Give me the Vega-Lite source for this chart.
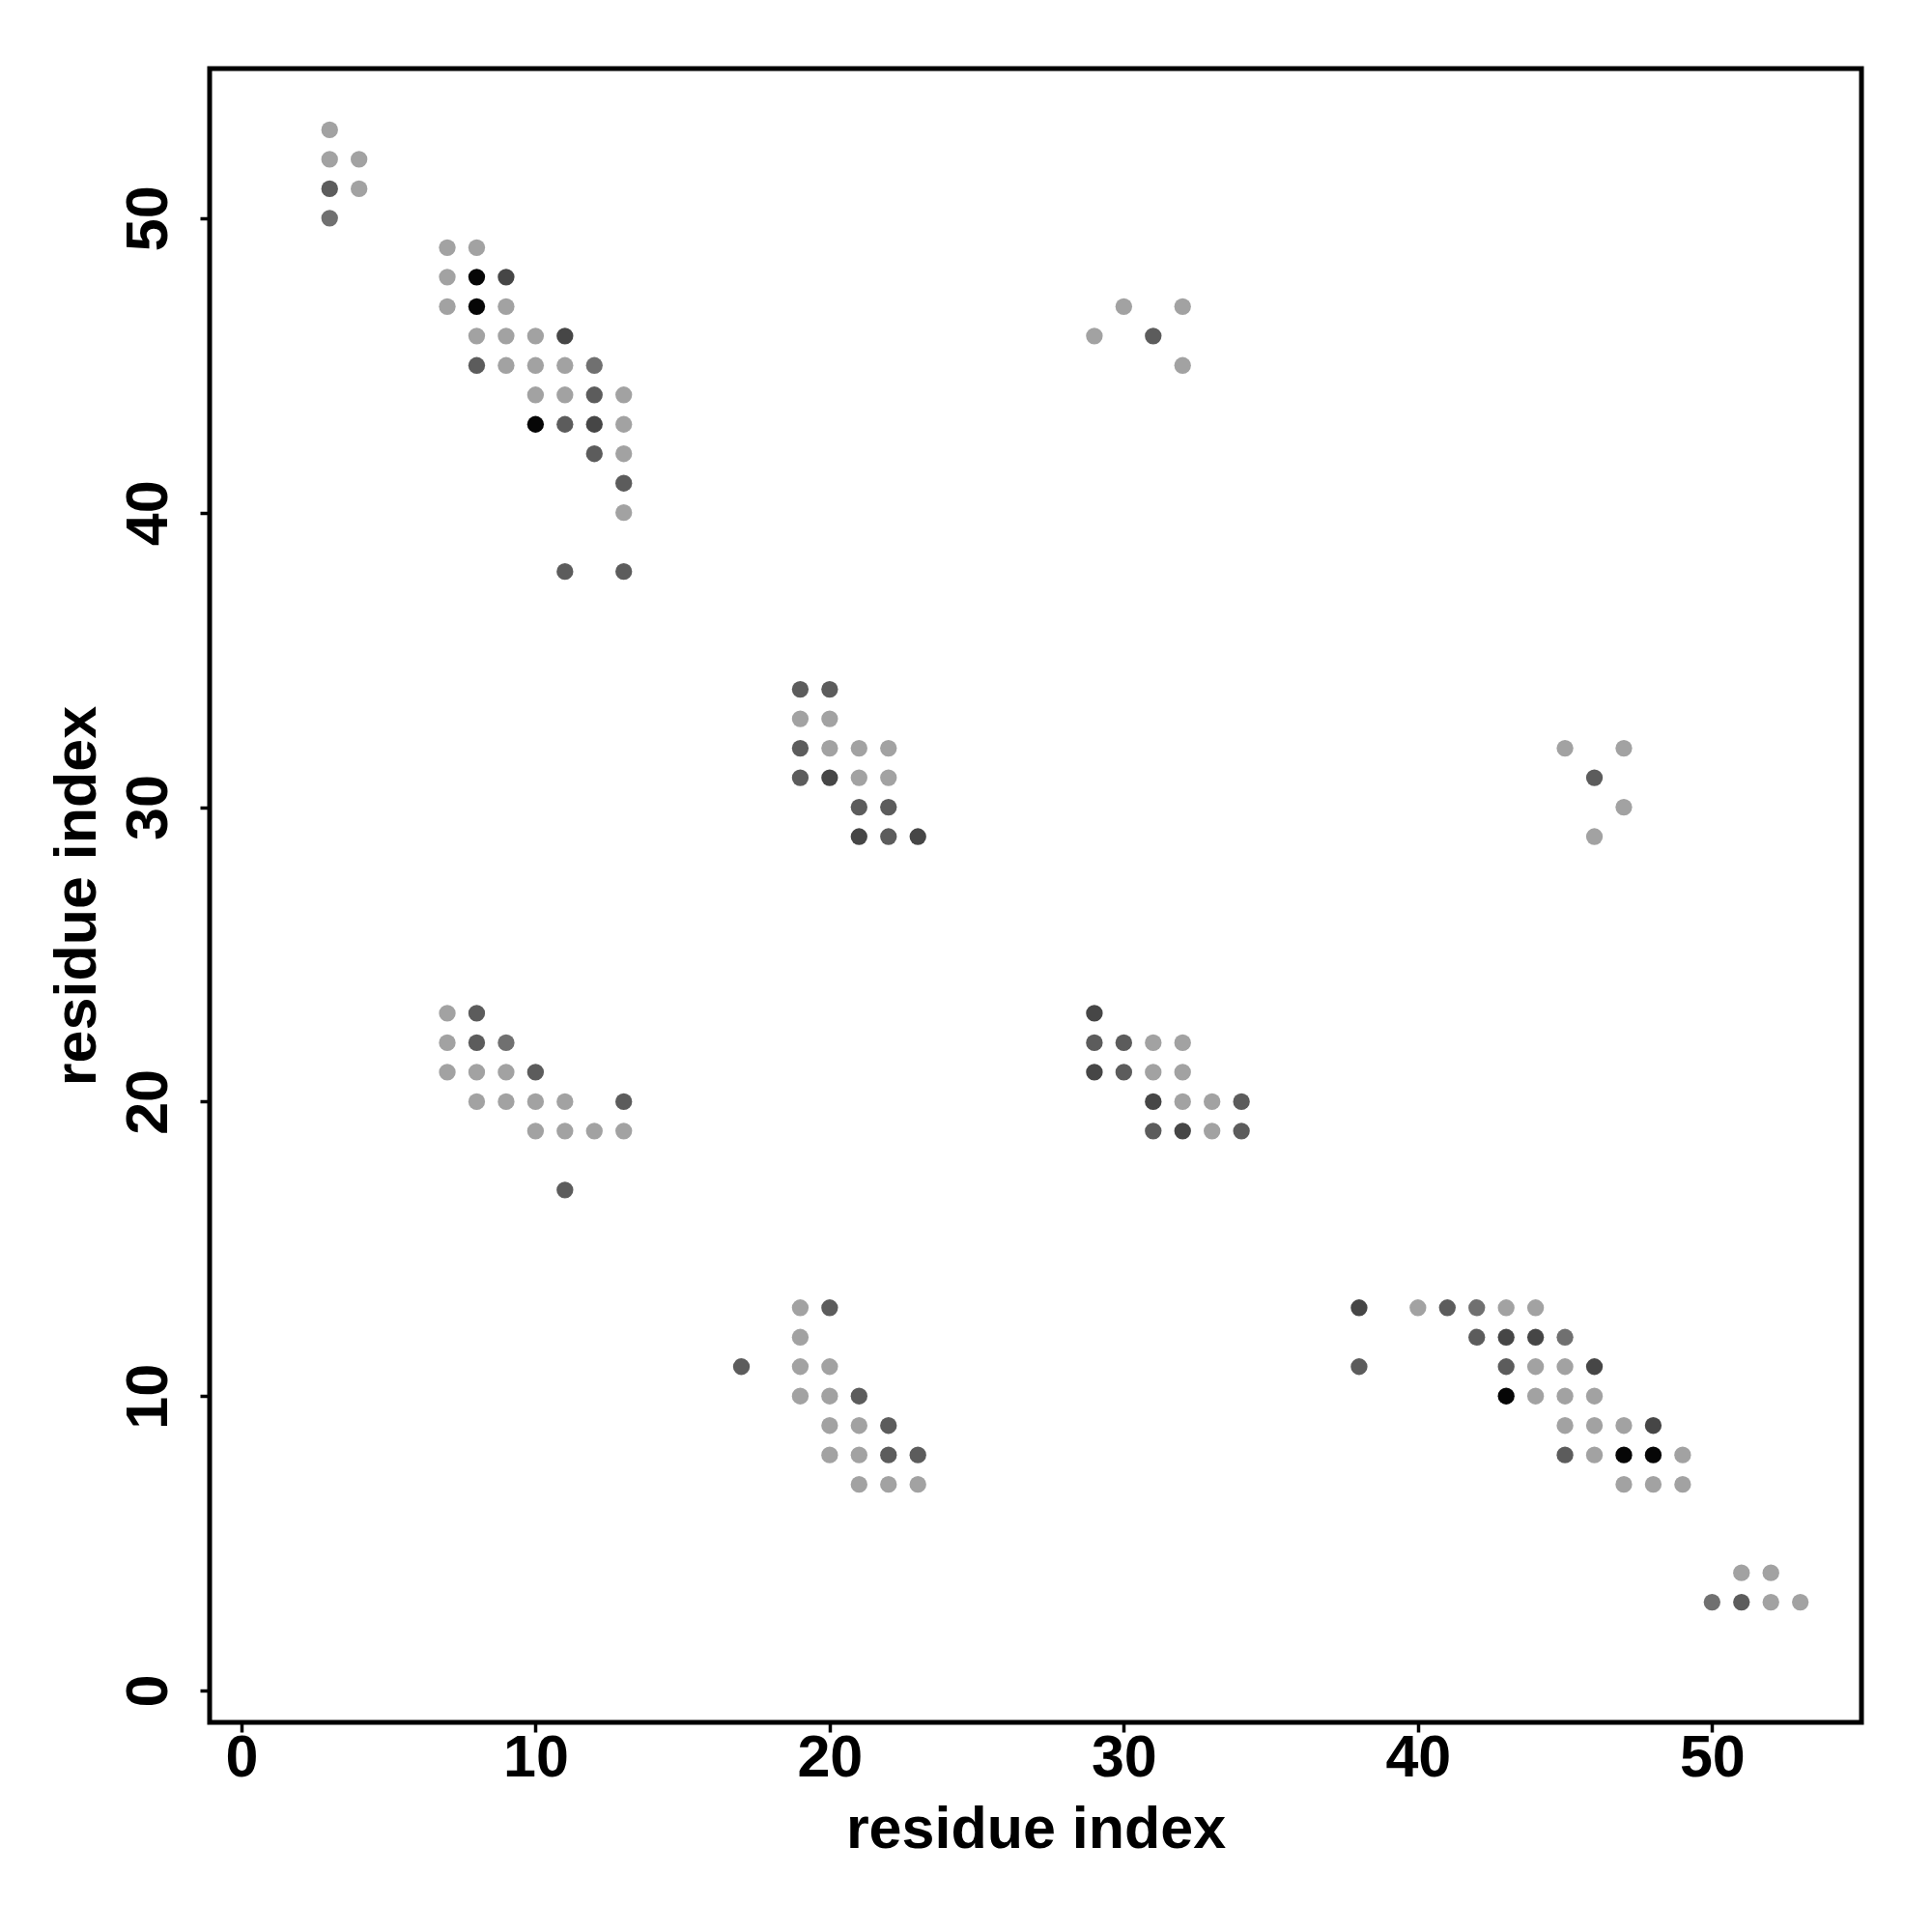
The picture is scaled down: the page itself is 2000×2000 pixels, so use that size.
{
  "$schema": "https://vega.github.io/schema/vega-lite/v6.json",
  "width": 1710,
  "height": 1712,
  "autosize": {"type": "none"},
  "padding": {"left": 217, "top": 71, "right": 73, "bottom": 217},
  "background": "white",
  "config": {
    "view": {"stroke": "black", "strokeWidth": 5},
    "font": "Liberation Sans"
  },
  "data": {
    "values": [
      {"i": 3, "j": 53, "level": 1}, {"i": 3, "j": 52, "level": 1}, {"i": 3, "j": 51, "level": 3}, {"i": 3, "j": 50, "level": 2},
      {"i": 4, "j": 52, "level": 1}, {"i": 4, "j": 51, "level": 1},
      {"i": 7, "j": 49, "level": 1}, {"i": 7, "j": 48, "level": 1}, {"i": 7, "j": 47, "level": 1},
      {"i": 8, "j": 49, "level": 1}, {"i": 8, "j": 48, "level": 5}, {"i": 8, "j": 47, "level": 5}, {"i": 8, "j": 46, "level": 1}, {"i": 8, "j": 45, "level": 3},
      {"i": 9, "j": 48, "level": 4}, {"i": 9, "j": 47, "level": 1}, {"i": 9, "j": 46, "level": 1}, {"i": 9, "j": 45, "level": 1},
      {"i": 10, "j": 46, "level": 1}, {"i": 10, "j": 45, "level": 1}, {"i": 10, "j": 44, "level": 1}, {"i": 10, "j": 43, "level": 5},
      {"i": 11, "j": 46, "level": 4}, {"i": 11, "j": 45, "level": 1}, {"i": 11, "j": 44, "level": 1}, {"i": 11, "j": 43, "level": 3}, {"i": 11, "j": 38, "level": 3},
      {"i": 12, "j": 45, "level": 2}, {"i": 12, "j": 44, "level": 3}, {"i": 12, "j": 43, "level": 4}, {"i": 12, "j": 42, "level": 3},
      {"i": 13, "j": 44, "level": 1}, {"i": 13, "j": 43, "level": 1}, {"i": 13, "j": 42, "level": 1}, {"i": 13, "j": 41, "level": 3}, {"i": 13, "j": 40, "level": 1}, {"i": 13, "j": 38, "level": 3},
      {"i": 29, "j": 46, "level": 1}, {"i": 30, "j": 47, "level": 1}, {"i": 31, "j": 46, "level": 3}, {"i": 32, "j": 47, "level": 1}, {"i": 32, "j": 45, "level": 1},
      {"i": 19, "j": 34, "level": 3}, {"i": 19, "j": 33, "level": 1}, {"i": 19, "j": 32, "level": 3}, {"i": 19, "j": 31, "level": 3},
      {"i": 20, "j": 34, "level": 3}, {"i": 20, "j": 33, "level": 1}, {"i": 20, "j": 32, "level": 1}, {"i": 20, "j": 31, "level": 4},
      {"i": 21, "j": 32, "level": 1}, {"i": 21, "j": 31, "level": 1}, {"i": 21, "j": 30, "level": 3}, {"i": 21, "j": 29, "level": 4},
      {"i": 22, "j": 32, "level": 1}, {"i": 22, "j": 31, "level": 1}, {"i": 22, "j": 30, "level": 3}, {"i": 22, "j": 29, "level": 3},
      {"i": 23, "j": 29, "level": 4},
      {"i": 45, "j": 32, "level": 1}, {"i": 46, "j": 31, "level": 3}, {"i": 46, "j": 29, "level": 1}, {"i": 47, "j": 32, "level": 1}, {"i": 47, "j": 30, "level": 1},
      {"i": 7, "j": 23, "level": 1}, {"i": 7, "j": 22, "level": 1}, {"i": 7, "j": 21, "level": 1},
      {"i": 8, "j": 23, "level": 3}, {"i": 8, "j": 22, "level": 3}, {"i": 8, "j": 21, "level": 1}, {"i": 8, "j": 20, "level": 1},
      {"i": 9, "j": 22, "level": 2}, {"i": 9, "j": 21, "level": 1}, {"i": 9, "j": 20, "level": 1},
      {"i": 10, "j": 21, "level": 3}, {"i": 10, "j": 20, "level": 1}, {"i": 10, "j": 19, "level": 1},
      {"i": 11, "j": 20, "level": 1}, {"i": 11, "j": 19, "level": 1}, {"i": 11, "j": 17, "level": 3},
      {"i": 12, "j": 19, "level": 1},
      {"i": 13, "j": 20, "level": 3}, {"i": 13, "j": 19, "level": 1},
      {"i": 29, "j": 23, "level": 4}, {"i": 29, "j": 22, "level": 3}, {"i": 29, "j": 21, "level": 4},
      {"i": 30, "j": 22, "level": 3}, {"i": 30, "j": 21, "level": 3},
      {"i": 31, "j": 22, "level": 1}, {"i": 31, "j": 21, "level": 1}, {"i": 31, "j": 20, "level": 4}, {"i": 31, "j": 19, "level": 3},
      {"i": 32, "j": 22, "level": 1}, {"i": 32, "j": 21, "level": 1}, {"i": 32, "j": 20, "level": 1}, {"i": 32, "j": 19, "level": 4},
      {"i": 33, "j": 20, "level": 1}, {"i": 33, "j": 19, "level": 1},
      {"i": 34, "j": 20, "level": 3}, {"i": 34, "j": 19, "level": 3},
      {"i": 17, "j": 11, "level": 3},
      {"i": 19, "j": 13, "level": 1}, {"i": 19, "j": 12, "level": 1}, {"i": 19, "j": 11, "level": 1}, {"i": 19, "j": 10, "level": 1},
      {"i": 20, "j": 13, "level": 3}, {"i": 20, "j": 11, "level": 1}, {"i": 20, "j": 10, "level": 1}, {"i": 20, "j": 9, "level": 1}, {"i": 20, "j": 8, "level": 1},
      {"i": 21, "j": 10, "level": 3}, {"i": 21, "j": 9, "level": 1}, {"i": 21, "j": 8, "level": 1}, {"i": 21, "j": 7, "level": 1},
      {"i": 22, "j": 9, "level": 3}, {"i": 22, "j": 8, "level": 3}, {"i": 22, "j": 7, "level": 1},
      {"i": 23, "j": 8, "level": 3}, {"i": 23, "j": 7, "level": 1},
      {"i": 38, "j": 13, "level": 4}, {"i": 38, "j": 11, "level": 3},
      {"i": 40, "j": 13, "level": 1},
      {"i": 41, "j": 13, "level": 3},
      {"i": 42, "j": 13, "level": 2}, {"i": 42, "j": 12, "level": 3},
      {"i": 43, "j": 13, "level": 1}, {"i": 43, "j": 12, "level": 4}, {"i": 43, "j": 11, "level": 3}, {"i": 43, "j": 10, "level": 5},
      {"i": 44, "j": 13, "level": 1}, {"i": 44, "j": 12, "level": 4}, {"i": 44, "j": 11, "level": 1}, {"i": 44, "j": 10, "level": 1},
      {"i": 45, "j": 12, "level": 2}, {"i": 45, "j": 11, "level": 1}, {"i": 45, "j": 10, "level": 1}, {"i": 45, "j": 9, "level": 1}, {"i": 45, "j": 8, "level": 3},
      {"i": 46, "j": 11, "level": 4}, {"i": 46, "j": 10, "level": 1}, {"i": 46, "j": 9, "level": 1}, {"i": 46, "j": 8, "level": 1},
      {"i": 47, "j": 9, "level": 1}, {"i": 47, "j": 8, "level": 5}, {"i": 47, "j": 7, "level": 1},
      {"i": 48, "j": 9, "level": 4}, {"i": 48, "j": 8, "level": 5}, {"i": 48, "j": 7, "level": 1},
      {"i": 49, "j": 8, "level": 1}, {"i": 49, "j": 7, "level": 1},
      {"i": 50, "j": 3, "level": 2}, {"i": 51, "j": 4, "level": 1}, {"i": 51, "j": 3, "level": 3},
      {"i": 52, "j": 4, "level": 1}, {"i": 52, "j": 3, "level": 1}, {"i": 53, "j": 3, "level": 1}
    ]
  },
  "mark": {"type": "circle", "size": 300, "opacity": 1},
  "encoding": {
    "x": {
      "field": "i",
      "type": "quantitative",
      "scale": {"domain": [-1.08, 55.08], "nice": false, "zero": false},
      "axis": {
        "values": [0, 10, 20, 30, 40, 50],
        "grid": false,
        "domain": false,
        "ticks": true,
        "tickSize": 10,
        "tickWidth": 3.5,
        "tickColor": "black",
        "labelFont": "Liberation Sans",
        "labelFontSize": 61,
        "labelFontWeight": "bold",
        "labelColor": "black",
        "labelBaseline": "top",
        "labelPadding": -3,
        "labelFlush": false,
        "labelOverlap": false,
        "title": "residue index",
        "titleFont": "Liberation Sans",
        "titleFontSize": 61,
        "titleFontWeight": "bold",
        "titleColor": "black",
        "titleBaseline": "alphabetic",
        "titleY": 129,
        "titleX": 855,
        "titleAlign": "center"
      }
    },
    "y": {
      "field": "j",
      "type": "quantitative",
      "scale": {"domain": [-1.08, 55.08], "nice": false, "zero": false},
      "axis": {
        "values": [0, 10, 20, 30, 40, 50],
        "grid": false,
        "domain": false,
        "ticks": true,
        "tickSize": 10,
        "tickWidth": 3.5,
        "tickColor": "black",
        "labelFont": "Liberation Sans",
        "labelFontSize": 61,
        "labelFontWeight": "bold",
        "labelColor": "black",
        "labelAngle": -90,
        "labelAlign": "center",
        "labelBaseline": "alphabetic",
        "labelPadding": 35,
        "labelFlush": false,
        "labelOverlap": false,
        "title": "residue index",
        "titleFont": "Liberation Sans",
        "titleFontSize": 61,
        "titleFontWeight": "bold",
        "titleColor": "black",
        "titleAngle": -90,
        "titleBaseline": "alphabetic",
        "titleAlign": "center",
        "titleX": -119,
        "titleY": 856
      }
    },
    "color": {
      "field": "level",
      "type": "ordinal",
      "scale": {"domain": [1, 2, 3, 4, 5], "range": ["#a2a2a2", "#707070", "#5c5c5c", "#464646", "#060606"]},
      "legend": null
    }
  }
}
